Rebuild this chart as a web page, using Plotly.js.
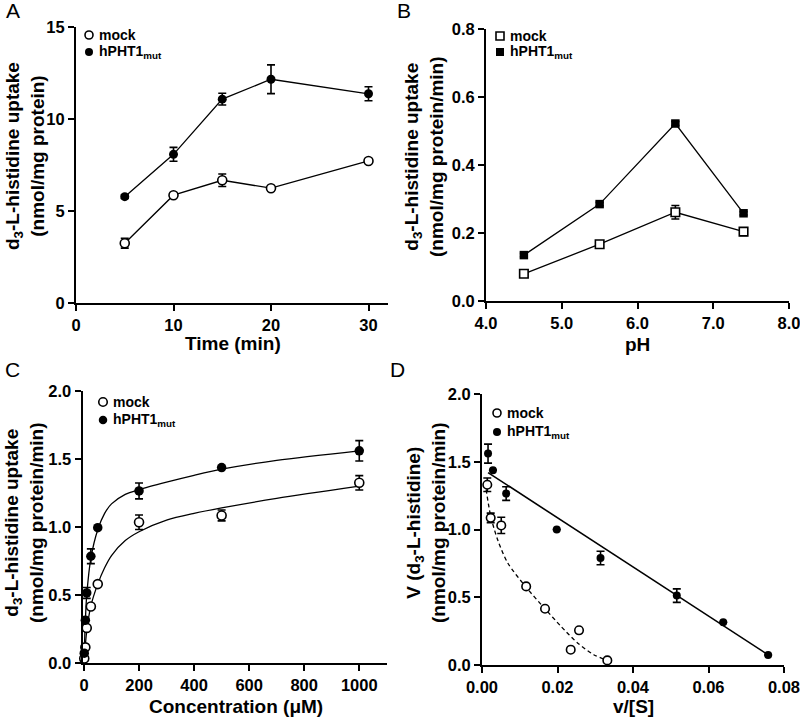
<!DOCTYPE html>
<html><head><meta charset="utf-8">
<script src="https://cdn.plot.ly/plotly-3.0.1.min.js"></script>
<style>html,body{margin:0;padding:0;background:#fff}#chart{width:800px;height:717px}</style>
</head><body><div id="chart"></div>
<script>
// ---------- Panel A: time course ----------
const timeMin = [5, 10, 15, 20, 30];
const aMock = [3.25, 5.86, 6.67, 6.24, 7.72];
const aMockErr = [0.27, 0.1, 0.34, 0.1, 0.1];
const aMut = [5.78, 8.08, 11.08, 12.16, 11.37];
const aMutErr = [0.1, 0.38, 0.32, 0.78, 0.38];
// ---------- Panel B: pH ----------
const pHvals = [4.5, 5.5, 6.5, 7.4];
const bMock = [0.080, 0.167, 0.261, 0.204];
const bMockErr = [0.005, 0.008, 0.02, 0.011];
const bMut = [0.135, 0.285, 0.522, 0.258];
const bMutErr = [0.005, 0.005, 0.006, 0.005];
// ---------- Panel C: concentration ----------
const conc = [1, 5, 10, 25, 50, 200, 500, 1000];
const cMock = [0.033, 0.115, 0.258, 0.415, 0.58, 1.035, 1.085, 1.325];
const cMockErr = [0, 0, 0, 0, 0, 0.053, 0.04, 0.053];
const cMut = [0.072, 0.315, 0.515, 0.785, 0.995, 1.265, 1.437, 1.56];
const cMutErr = [0, 0, 0.04, 0.054, 0, 0.058, 0, 0.075];
// fitted curves
const fitConc = [0, 1, 5, 10, 25, 50, 75, 100, 150, 200, 300, 400, 500, 700, 1000];
const fitMut = [0, 0.08, 0.31, 0.5, 0.77, 0.98, 1.1, 1.17, 1.24, 1.275, 1.33, 1.38, 1.425, 1.49, 1.56];
const fitMock = [0, 0.03, 0.13, 0.235, 0.42, 0.58, 0.70, 0.79, 0.90, 0.965, 1.05, 1.10, 1.14, 1.21, 1.30];
// ---------- Panel D: Eadie-Hofstee ----------
const dMutX = [0.0016, 0.0029, 0.0064, 0.0198, 0.0314, 0.0516, 0.0639, 0.0758];
const dMutY = [1.56, 1.438, 1.265, 1.0, 0.79, 0.512, 0.316, 0.074];
const dMutErr = [0.07, 0, 0.05, 0, 0.05, 0.05, 0, 0];
const dMockX = [0.0014, 0.0023, 0.0051, 0.0117, 0.0167, 0.0257, 0.0235, 0.0332];
const dMockY = [1.33, 1.086, 1.03, 0.58, 0.415, 0.256, 0.113, 0.034];
const dMockErr = [0.05, 0.035, 0.06, 0, 0, 0, 0, 0];
const dLineX = [0.0016, 0.0758];
const dLineY = [1.42, 0.075];
const dCurveX = [0.0011, 0.0023, 0.0042, 0.0068, 0.0118, 0.0165, 0.0209, 0.0253, 0.0296, 0.0332];
const dCurveY = [1.295, 1.10, 0.92, 0.754, 0.57, 0.421, 0.286, 0.163, 0.076, 0.034];

const seriesNames = ['mock', 'hPHT1<sub>mut</sub>'];
const yTitleA = 'd<sub>3</sub>-L-histidine uptake<br>(nmol/mg protein)';
const yTitleB = 'd<sub>3</sub>-L-histidine uptake<br>(nmol/mg protein/min)';
const yTitleD = 'V (d<sub>3</sub>-L-histidine)<br>(nmol/mg protein/min)';

const FONT = 'Liberation Sans, Arial, Helvetica, sans-serif';
const W = 800, H = 717;
const px = v => v / W, py = v => (H - v) / H;

function err(arr) {
  return {type: 'data', array: arr, visible: true, color: '#000', thickness: 1.6, width: 4};
}
const openM = (sym, size) => ({symbol: sym, size: size, color: '#fff', line: {color: '#000', width: 1.6}});
const fillM = (sym, size) => ({symbol: sym, size: size, color: '#000', line: {color: '#000', width: 0}});

const traces = [
  // A
  {x: timeMin, y: aMock, xaxis: 'x', yaxis: 'y', mode: 'lines+markers', line: {color: '#000', width: 1.3},
   marker: openM('circle', 9), error_y: err(aMockErr), cliponaxis: false},
  {x: timeMin, y: aMut, xaxis: 'x', yaxis: 'y', mode: 'lines+markers', line: {color: '#000', width: 1.3},
   marker: fillM('circle', 9), error_y: err(aMutErr), cliponaxis: false},
  // B
  {x: pHvals, y: bMock, xaxis: 'x2', yaxis: 'y2', mode: 'lines+markers', line: {color: '#000', width: 1.3},
   marker: openM('square', 8.5), error_y: err(bMockErr), cliponaxis: false},
  {x: pHvals, y: bMut, xaxis: 'x2', yaxis: 'y2', mode: 'lines+markers', line: {color: '#000', width: 1.3},
   marker: fillM('square', 8.5), error_y: err(bMutErr), cliponaxis: false},
  // C curves
  {x: fitConc, y: fitMock, xaxis: 'x3', yaxis: 'y3', mode: 'lines', line: {color: '#000', width: 1.3, shape: 'spline', smoothing: 0.8}},
  {x: fitConc, y: fitMut, xaxis: 'x3', yaxis: 'y3', mode: 'lines', line: {color: '#000', width: 1.3, shape: 'spline', smoothing: 0.8}},
  // C points
  {x: conc, y: cMock, xaxis: 'x3', yaxis: 'y3', mode: 'markers', marker: openM('circle', 9), error_y: err(cMockErr), cliponaxis: false},
  {x: conc, y: cMut, xaxis: 'x3', yaxis: 'y3', mode: 'markers', marker: fillM('circle', 9.5), error_y: err(cMutErr), cliponaxis: false},
  // D lines
  {x: dLineX, y: dLineY, xaxis: 'x4', yaxis: 'y4', mode: 'lines', line: {color: '#000', width: 1.6}},
  {x: dCurveX, y: dCurveY, xaxis: 'x4', yaxis: 'y4', mode: 'lines', line: {color: '#000', width: 1.3, dash: '4px,3px', shape: 'spline', smoothing: 0.8}},
  // D points
  {x: dMockX, y: dMockY, xaxis: 'x4', yaxis: 'y4', mode: 'markers', marker: openM('circle', 8.5), error_y: err(dMockErr), cliponaxis: false},
  {x: dMutX, y: dMutY, xaxis: 'x4', yaxis: 'y4', mode: 'markers', marker: fillM('circle', 8), error_y: err(dMutErr), cliponaxis: false}
];

const tickFont = {family: FONT, size: 16.5, color: '#000', weight: 700};
function ax(domain, range, dtick, fmt, anchor) {
  return {domain: domain, range: range, dtick: dtick, tick0: 0, tickformat: fmt, anchor: anchor,
    showline: true, linecolor: '#000', linewidth: 2, ticks: 'outside', ticklen: 6, tickwidth: 2, tickcolor: '#000',
    showgrid: false, zeroline: false, tickfont: tickFont, fixedrange: true, ticklabeloverflow: 'allow'};
}

const layout = {
  width: W, height: H, margin: {l: 0, r: 0, t: 0, b: 0},
  paper_bgcolor: '#fff', plot_bgcolor: 'rgba(0,0,0,0)', showlegend: false,
  font: {family: FONT, color: '#000'},
  xaxis: ax([px(76), px(388)], [0, 32], 10, 'd', 'y'),
  yaxis: ax([py(303), py(27)], [0, 15], 5, 'd', 'x'),
  xaxis2: ax([px(486), px(789)], [4, 8], 1, '.1f', 'y2'),
  yaxis2: ax([py(301), py(29)], [0, 0.8], 0.2, '.1f', 'x2'),
  xaxis3: ax([px(82.6), px(386.8)], [-5, 1100], 200, 'd', 'y3'),
  yaxis3: ax([py(663), py(391)], [0, 2], 0.5, '.1f', 'x3'),
  xaxis4: ax([px(482), px(784)], [0, 0.08], 0.02, '.2f', 'y4'),
  yaxis4: ax([py(665), py(394)], [0, 2], 0.5, '.1f', 'x4'),
  annotations: [],
  shapes: []
};

const titleFont = {family: FONT, size: 19, color: '#000', weight: 700};
function ann(text, x, y, opts) {
  layout.annotations.push(Object.assign({text: text, xref: 'paper', yref: 'paper', x: px(x), y: py(y),
    showarrow: false, xanchor: 'center', yanchor: 'middle', font: titleFont}, opts || {}));
}
// axis titles
ann(yTitleA, 25, 156, {textangle: -90});
ann(yTitleB, 424, 157, {textangle: -90});
ann(yTitleB, 24, 523, {textangle: -90});
ann(yTitleD, 426, 523, {textangle: -90});
ann('Time (min)', 233, 343);
ann('pH', 637, 344);
ann('Concentration (\u03bcM)', 236, 706);
ann('v/[S]', 633, 706);
// panel letters
const letterFont = {family: FONT, size: 21, color: '#000'};
ann('A', 13, 10, {font: letterFont});
ann('B', 404, 10, {font: letterFont});
ann('C', 12, 369, {font: letterFont});
ann('D', 397, 369, {font: letterFont});

// legends
const legFont = {family: FONT, size: 14, color: '#000', weight: 700};
function legend(mx, my1, my2, tx, type, size) {
  const ys = [my1, my2];
  ys.forEach((yy, i) => {
    const r = size / 2;
    layout.shapes.push({type: type, xref: 'paper', yref: 'paper', xsizemode: 'pixel', ysizemode: 'pixel',
      xanchor: px(mx), yanchor: py(yy), x0: -r, x1: r, y0: -r, y1: r,
      line: {color: '#000', width: i === 0 ? 1.6 : 0}, fillcolor: i === 0 ? '#fff' : '#000'});
    ann(seriesNames[i], tx, yy, {xanchor: 'left', font: legFont});
  });
}
legend(89, 35, 52, 97, 'circle', 8);
legend(500, 36, 52, 508, 'rect', 8);
legend(103, 402, 420, 111, 'circle', 8.5);
legend(497, 413, 432, 505, 'circle', 8);

Plotly.newPlot('chart', traces, layout, {staticPlot: true, displayModeBar: false});
</script>
</body></html>
